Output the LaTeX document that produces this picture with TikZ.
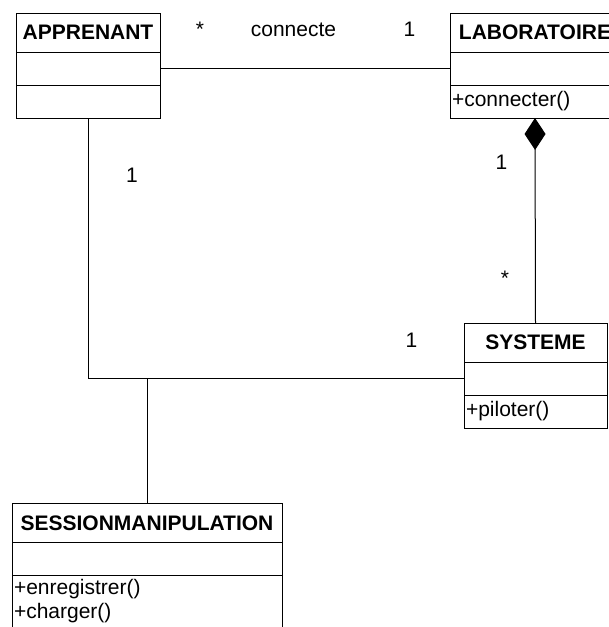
\documentclass[tikz,border=0pt]{standalone}
\usepackage{fontspec}
\setmainfont{Liberation Sans}
\usetikzlibrary{arrows.meta,positioning}

\begin{document}
\begin{tikzpicture}[x=1pt, y=-1pt, line width=1pt,
  font=\fontsize{21}{24}\selectfont,
  title/.style={draw, outer sep=0pt, inner xsep=2pt, inner ysep=0pt, text width=#1, align=center, minimum height=39pt, font=\fontsize{21}{24}\selectfont\bfseries},
  part/.style={draw, outer sep=0pt, inner xsep=2pt, inner ysep=4pt, text width=#1, align=left, minimum height=33pt},
  mult/.style={anchor=base}]

\useasboundingbox (0,0) rectangle (609,627);
\clip (0,0) rectangle (609,627);

% Classes
\node[title=140pt] (appT) at (88,32.5) {APPRENANT};
\node[part=140pt, below=0pt of appT] (appA) {};
\node[part=140pt, below=0pt of appA] (appO) {};

\node[title=166pt] (labT) at (535,32.5) {LABORATOIRE};
\node[part=166pt, below=0pt of labT] (labA) {};
\node[part=166pt, below=0pt of labA] (labO) {+connecter()};

\node[title=139pt] (sysT) at (535.5,342.5) {SYSTEME};
\node[part=139pt, below=0pt of sysT] (sysA) {};
\node[part=139pt, below=0pt of sysA] (sysO) {+piloter()};

\node[title=266pt] (sesT) at (147,523) {SESSIONMANIPULATION};
\node[part=266pt, below=0pt of sesT] (sesA) {};
\node[part=266pt, below=0pt of sesA] (sesO) {+enregistrer()\\+charger()};

% Associations
\draw (appA.east) -- (labA.west);
\draw[{Diamond[length=32pt,width=21pt]}-] (labO.south) -- (sysT.north);
\draw (appO.south) |- (sysA.west);
\draw (sesT.north) -- (sesT.north |- sysA.west);

% Multiplicities and roles
\node[mult] (m1) at (200,36) {*};
\node[mult] (r1) at (293.5,36) {connecte};
\node[mult] (m2) at (409.5,36) {1};
\node[mult] (m3) at (132,182) {1};
\node[mult] (m4) at (501.5,169) {1};
\node[mult] (m5) at (505,285) {*};
\node[mult] (m6) at (411.5,347) {1};

\end{tikzpicture}
\end{document}
